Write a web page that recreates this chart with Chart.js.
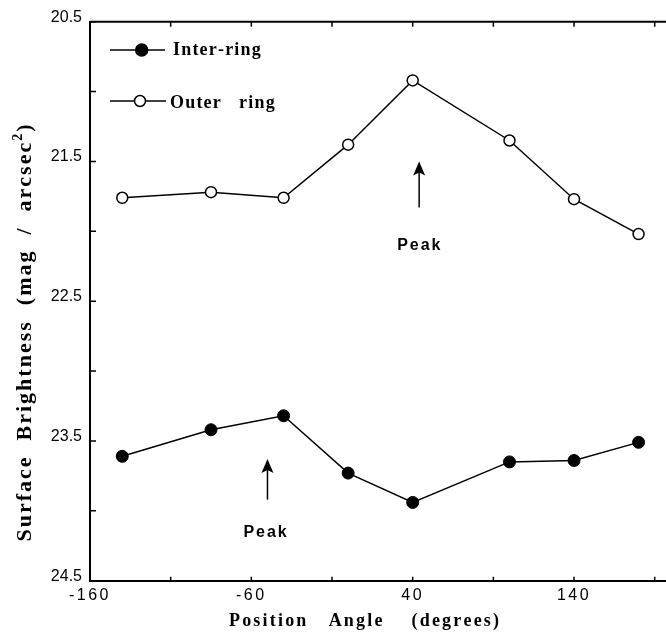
<!DOCTYPE html>
<html><head><meta charset="utf-8">
<script src="https://cdn.jsdelivr.net/npm/chart.js@4/dist/chart.umd.min.js"></script>
<style>html,body{margin:0;padding:0;background:#fff;overflow:hidden}#wrap{width:666px;height:635px;position:relative}</style>
</head><body><div id="wrap"><canvas id="c"></canvas></div>
<script>
const angles = [-140, -85, -40, 0, 40, 100, 140, 180];
const interRing = [23.61, 23.42, 23.32, 23.73, 23.94, 23.65, 23.64, 23.51];
const outerRing = [21.76, 21.72, 21.76, 21.38, 20.92, 21.35, 21.77, 22.02];
const xTickValues = [-160, -110, -60, -10, 40, 90, 140, 190];
const xTickLabels = [-160, -60, 40, 140];
const yTickValues = [20.5, 21, 21.5, 22, 22.5, 23, 23.5, 24, 24.5];
const yTickLabels = [20.5, 21.5, 22.5, 23.5, 24.5];
const seriesNames = ['Inter-ring', 'Outer   ring'];
const peakAngles = [-50, 44];
const peakTips = [23.63, 21.5];
const peakTails = [23.92, 21.83];
const peakLabelAngles = [-51.5, 43.8];
const peakLabelValues = [24.185, 22.134];
const peakLabel = 'Peak';
const xTitle = 'Position   Angle    (degrees)';
const yTitleMain = 'Surface  Brightness  (mag  /  arcsec';
const yTitleSup = '2';
const yTitleEnd = ')';

const SERIF = '"Liberation Serif", "Times New Roman", serif';
const SANS = '"Liberation Sans", Arial, sans-serif';

function drawSpaced(ctx, parts, x, y, align) {
  let total = 0;
  const items = [];
  parts.forEach(p => {
    ctx.font = p.font;
    for (const ch of p.t) {
      const w = ctx.measureText(ch).width;
      items.push({ch, font: p.font, dy: p.dy || 0, w, sp: p.sp});
      total += w + p.sp;
    }
  });
  if (items.length) total -= items[items.length - 1].sp;
  let cx = align === 'center' ? x - total / 2 : (align === 'right' ? x - total : x);
  ctx.textAlign = 'left';
  ctx.textBaseline = 'alphabetic';
  items.forEach(it => {
    ctx.font = it.font;
    ctx.fillText(it.ch, cx, y + it.dy);
    cx += it.w + it.sp;
  });
}

const decor = {
  id: 'decor',
  afterUpdate(chart) {
    const sx = chart.scales.x;
    if (sx && !sx._lsPatched) {
      const orig = sx.drawLabels;
      sx.drawLabels = function (a) {
        const c = this.ctx;
        const prev = c.letterSpacing;
        if ('letterSpacing' in c) c.letterSpacing = '2.5px';
        orig.call(this, a);
        if ('letterSpacing' in c) c.letterSpacing = prev;
      };
      sx._lsPatched = true;
    }
  },
  afterDraw(chart) {
    const {ctx, chartArea: a, scales: {x, y}} = chart;
    ctx.save();
    ctx.strokeStyle = '#000';
    ctx.fillStyle = '#000';
    // top frame line
    ctx.lineWidth = 2;
    ctx.beginPath();
    ctx.moveTo(a.left, a.top);
    ctx.lineTo(a.right, a.top);
    ctx.stroke();
    // inner tick marks
    ctx.lineWidth = 1.5;
    ctx.beginPath();
    xTickValues.forEach(v => {
      const px = x.getPixelForValue(v);
      ctx.moveTo(px, a.bottom); ctx.lineTo(px, a.bottom - 4);
      ctx.moveTo(px, a.top); ctx.lineTo(px, a.top + 5);
    });
    yTickValues.forEach(v => {
      const py = y.getPixelForValue(v);
      ctx.moveTo(a.left, py); ctx.lineTo(a.left + 6, py);
    });
    ctx.stroke();
    // peak arrows
    peakAngles.forEach((ang, i) => {
      const px = x.getPixelForValue(ang);
      const tip = y.getPixelForValue(peakTips[i]);
      const tail = y.getPixelForValue(peakTails[i]);
      ctx.lineWidth = 1.5;
      ctx.beginPath();
      ctx.moveTo(px, tail); ctx.lineTo(px, tip + 8);
      ctx.stroke();
      ctx.beginPath();
      ctx.moveTo(px, tip);
      ctx.lineTo(px - 6, tip + 14);
      ctx.lineTo(px, tip + 11);
      ctx.lineTo(px + 6, tip + 14);
      ctx.closePath();
      ctx.fill();
      drawSpaced(ctx, [{t: peakLabel, font: 'bold 16px ' + SANS, sp: 2}],
        x.getPixelForValue(peakLabelAngles[i]), y.getPixelForValue(peakLabelValues[i]), 'center');
    });
    // legend
    const legendRows = [
      {y: 50, base: 55, cx: 141.7, x0: 110, x1: 165, tx: 173, filled: true},
      {y: 101, base: 108, cx: 140, x0: 110, x1: 166, tx: 170, filled: false}
    ];
    legendRows.forEach((r, i) => {
      ctx.lineWidth = 1.5;
      ctx.beginPath();
      ctx.moveTo(r.x0, r.y); ctx.lineTo(r.x1, r.y);
      ctx.stroke();
      ctx.beginPath();
      ctx.arc(r.cx, r.y, r.filled ? 6 : 5.5, 0, Math.PI * 2);
      ctx.fillStyle = r.filled ? '#000' : '#fff';
      ctx.fill();
      ctx.stroke();
      ctx.fillStyle = '#000';
      drawSpaced(ctx, [{t: seriesNames[i], font: 'bold 18px ' + SERIF, sp: 1.2}], r.tx, r.base, 'left');
    });
    // x title
    drawSpaced(ctx, [{t: xTitle, font: 'bold 18px ' + SERIF, sp: 2.2}], 364, 626, 'center');
    // y title
    ctx.save();
    ctx.translate(31, 333);
    ctx.rotate(-Math.PI / 2);
    drawSpaced(ctx, [
      {t: yTitleMain, font: 'bold 22px ' + SERIF, sp: 2},
      {t: yTitleSup, font: 'bold 14px ' + SERIF, sp: 2, dy: -9},
      {t: yTitleEnd, font: 'bold 22px ' + SERIF, sp: 2}
    ], 0, 0, 'center');
    ctx.restore();
    ctx.restore();
  }
};

new Chart(document.getElementById('c'), {
  type: 'line',
  data: {
    datasets: [
      {
        label: seriesNames[0],
        data: angles.map((a, i) => ({x: a, y: interRing[i]})),
        borderColor: '#000', borderWidth: 1.5,
        pointRadius: 6, pointBackgroundColor: '#000', pointBorderColor: '#000', pointBorderWidth: 1,
        tension: 0, fill: false
      },
      {
        label: seriesNames[1],
        data: angles.map((a, i) => ({x: a, y: outerRing[i]})),
        borderColor: '#000', borderWidth: 1.5,
        pointRadius: 5.5, pointBackgroundColor: '#fff', pointBorderColor: '#000', pointBorderWidth: 1.5,
        tension: 0, fill: false
      }
    ]
  },
  options: {
    responsive: true,
    maintainAspectRatio: false,
    animation: false,
    layout: {autoPadding: false, padding: {top: 21.7, left: 0, right: 0, bottom: 0}},
    plugins: {legend: {display: false}, tooltip: {enabled: false}},
    scales: {
      x: {
        type: 'linear', min: -160, max: 197,
        afterBuildTicks: s => { s.ticks = xTickValues.map(v => ({value: v})); },
        afterFit: s => { s.height = 635 - 580.7; s.paddingLeft = 0; s.paddingRight = 0; },
        ticks: {
          autoSkip: false, maxRotation: 0, minRotation: 0, padding: 5, color: '#000',
          font: {family: SANS, size: 16},
          callback: v => xTickLabels.includes(v) ? String(v) : ''
        },
        grid: {display: false, drawTicks: false},
        border: {display: true, color: '#000', width: 2}
      },
      y: {
        type: 'linear', reverse: true, min: 20.5, max: 24.5,
        afterBuildTicks: s => { s.ticks = yTickValues.map(v => ({value: v})); },
        afterFit: s => { s.width = 90; s.paddingTop = 0; s.paddingBottom = 0; },
        ticks: {
          autoSkip: false, padding: 8, labelOffset: -4.5, color: '#000',
          font: {family: SANS, size: 16},
          callback: v => yTickLabels.includes(v) ? v.toFixed(1) : ''
        },
        grid: {display: false, drawTicks: false},
        border: {display: true, color: '#000', width: 2}
      }
    }
  },
  plugins: [decor]
});
</script>
</body></html>
